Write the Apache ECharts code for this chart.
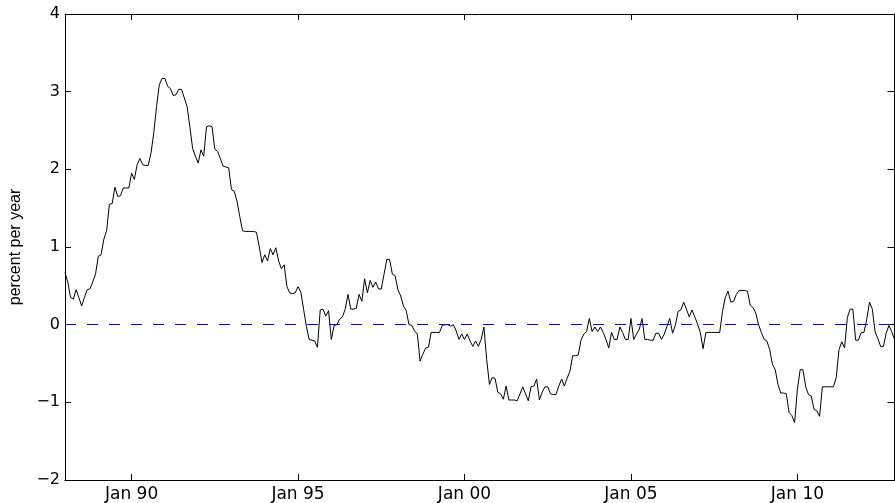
<!DOCTYPE html>
<html>
<head>
<meta charset="utf-8">
<script src="https://cdn.jsdelivr.net/npm/echarts@6/dist/echarts.min.js"></script>
<style>
html,body{margin:0;padding:0;background:#fff;}
#chart{width:895px;height:503px;}
</style>
</head>
<body>
<div id="chart"></div>
<script>
// Monthly series, Jan 1988 .. Dec 2012 (percent per year)
const startYear = 1988;
const monthNames = ['Jan','Feb','Mar','Apr','May','Jun','Jul','Aug','Sep','Oct','Nov','Dec'];
const tickLabels = ['Jan 90', 'Jan 95', 'Jan 00', 'Jan 05', 'Jan 10'];
const yTicks = [-2, -1, 0, 1, 2, 3, 4];
const yAxisName = 'percent per year';

const v1988 = [0.67, 0.55, 0.35, 0.33, 0.45, 0.35, 0.24, 0.35, 0.45, 0.46, 0.55, 0.65];
const v1989 = [0.88, 0.90, 1.10, 1.21, 1.55, 1.56, 1.77, 1.65, 1.66, 1.76, 1.76, 1.76];
const v1990 = [1.95, 1.87, 2.06, 2.14, 2.06, 2.05, 2.05, 2.21, 2.47, 2.81, 3.09, 3.17];
const v1991 = [3.17, 3.07, 3.04, 2.95, 2.96, 3.03, 3.03, 2.92, 2.81, 2.55, 2.27, 2.17];
const v1992 = [2.08, 2.25, 2.17, 2.55, 2.56, 2.55, 2.26, 2.23, 2.14, 2.04, 2.03, 2.02];
const v1993 = [1.74, 1.72, 1.59, 1.39, 1.21, 1.20, 1.20, 1.20, 1.20, 1.19, 1.01, 0.80];
const v1994 = [0.90, 0.82, 0.98, 0.90, 0.99, 0.82, 0.72, 0.77, 0.49, 0.41, 0.40, 0.41];
const v1995 = [0.49, 0.42, 0.20, -0.02, -0.19, -0.20, -0.21, -0.29, 0.19, 0.20, 0.11, 0.18];
const v1996 = [-0.19, -0.01, 0.00, 0.07, 0.10, 0.20, 0.39, 0.20, 0.20, 0.21, 0.39, 0.30];
const v1997 = [0.59, 0.41, 0.57, 0.48, 0.55, 0.46, 0.46, 0.65, 0.84, 0.84, 0.65, 0.63];
const v1998 = [0.45, 0.37, 0.24, 0.18, 0.00, -0.01, -0.08, -0.12, -0.47, -0.38, -0.30, -0.29];
const v1999 = [-0.10, -0.10, -0.10, -0.10, -0.01, 0.00, 0.00, -0.02, 0.00, -0.08, -0.19, -0.12];
const v2000 = [-0.19, -0.12, -0.21, -0.28, -0.21, -0.28, -0.19, -0.03, -0.45, -0.77, -0.68, -0.69];
const v2001 = [-0.87, -0.89, -0.96, -0.79, -0.97, -0.97, -0.97, -0.98, -0.89, -0.80, -0.89, -0.98];
const v2002 = [-0.80, -0.79, -0.70, -0.97, -0.87, -0.80, -0.80, -0.89, -0.90, -0.90, -0.79, -0.70];
const v2003 = [-0.79, -0.69, -0.60, -0.40, -0.40, -0.39, -0.20, -0.12, -0.09, 0.08, -0.09, -0.03];
const v2004 = [-0.09, -0.03, -0.10, -0.19, -0.30, -0.10, -0.19, -0.19, -0.03, -0.10, -0.19, -0.19];
const v2005 = [0.08, -0.19, -0.12, -0.06, 0.08, -0.19, -0.19, -0.20, -0.20, -0.11, -0.11, -0.19];
const v2006 = [-0.12, -0.02, 0.08, -0.11, -0.01, 0.17, 0.19, 0.29, 0.20, 0.10, 0.19, 0.10];
const v2007 = [0.01, -0.10, -0.31, -0.10, -0.10, -0.10, -0.10, -0.10, -0.10, 0.17, 0.35, 0.43];
const v2008 = [0.29, 0.30, 0.39, 0.44, 0.44, 0.44, 0.43, 0.25, 0.22, 0.15, 0.00, -0.10];
const v2009 = [-0.19, -0.21, -0.32, -0.51, -0.58, -0.77, -0.88, -0.88, -0.89, -1.13, -1.17, -1.26];
const v2010 = [-0.83, -0.58, -0.58, -0.80, -0.90, -0.92, -1.09, -1.11, -1.18, -0.80, -0.80, -0.80];
const v2011 = [-0.80, -0.80, -0.68, -0.32, -0.22, -0.30, 0.09, 0.20, 0.20, -0.20, -0.20, -0.10];
const v2012 = [-0.10, 0.07, 0.29, 0.20, -0.09, -0.18, -0.28, -0.28, -0.11, -0.01, -0.09, -0.19];

const yearly = [v1988, v1989, v1990, v1991, v1992, v1993, v1994, v1995, v1996, v1997, v1998, v1999,
  v2000, v2001, v2002, v2003, v2004, v2005, v2006, v2007, v2008, v2009, v2010, v2011, v2012];

const categories = [];
const values = [];
yearly.forEach((arr, yi) => {
  const yy = String((startYear + yi) % 100).padStart(2, '0');
  arr.forEach((v, mi) => {
    categories.push(monthNames[mi] + ' ' + yy);
    values.push(v);
  });
});

const isTick = (i, name) => tickLabels.indexOf(name) >= 0;
const LABEL_FONT = '"DejaVu Sans", "Liberation Sans", Arial, sans-serif';
const NAME_FONT = '"Liberation Sans", Arial, Helvetica, sans-serif';

const chart = echarts.init(document.getElementById('chart'), null, {renderer: 'canvas'});
const axisLineStyle = {color: '#000', width: 1};
chart.setOption({
  animation: false,
  backgroundColor: '#fff',
  grid: {left: 65, right: 0.5, top: 14, bottom: 22, containLabel: false},
  xAxis: [
    {
      type: 'category', data: categories, boundaryGap: false, position: 'bottom',
      axisLine: {show: true, onZero: false, lineStyle: axisLineStyle},
      axisTick: {show: true, inside: true, length: 6, interval: isTick, lineStyle: {color: '#000'}},
      axisLabel: {show: true, interval: isTick, margin: 6, color: '#000', fontSize: 17, fontFamily: LABEL_FONT},
      splitLine: {show: false}
    },
    {
      type: 'category', data: categories, boundaryGap: false, position: 'top',
      axisLine: {show: true, onZero: false, lineStyle: axisLineStyle},
      axisTick: {show: true, inside: true, length: 6, interval: isTick, lineStyle: {color: '#000'}},
      axisLabel: {show: false},
      splitLine: {show: false}
    }
  ],
  yAxis: [
    {
      type: 'value', min: -2, max: 4, interval: 1, position: 'left',
      name: yAxisName, nameLocation: 'middle', nameGap: 41, nameRotate: 90,
      nameTextStyle: {color: '#000', fontSize: 16, fontFamily: NAME_FONT},
      axisLine: {show: true, onZero: false, lineStyle: axisLineStyle},
      axisTick: {show: true, inside: true, length: 6, lineStyle: {color: '#000'}},
      axisLabel: {show: true, margin: 5, color: '#000', fontSize: 16, fontFamily: LABEL_FONT,
        formatter: v => (v < 0 ? '\u2212' + Math.abs(v) : String(v))},
      splitLine: {show: false}
    },
    {
      type: 'value', min: -2, max: 4, interval: 1, position: 'right',
      axisLine: {show: true, onZero: false, lineStyle: axisLineStyle},
      axisTick: {show: true, inside: true, length: 7, lineStyle: {color: '#000'}},
      axisLabel: {show: false},
      splitLine: {show: false}
    }
  ],
  series: [
    {
      type: 'line', data: values, xAxisIndex: 0, yAxisIndex: 0,
      showSymbol: false, symbol: 'none',
      lineStyle: {color: '#000', width: 1},
      z: 3,
      markLine: {
        silent: true, symbol: ['none', 'none'], label: {show: false},
        lineStyle: {color: '#0000ff', width: 1, type: [11, 11]},
        data: [{yAxis: 0}]
      }
    }
  ]
});
</script>
</body>
</html>
